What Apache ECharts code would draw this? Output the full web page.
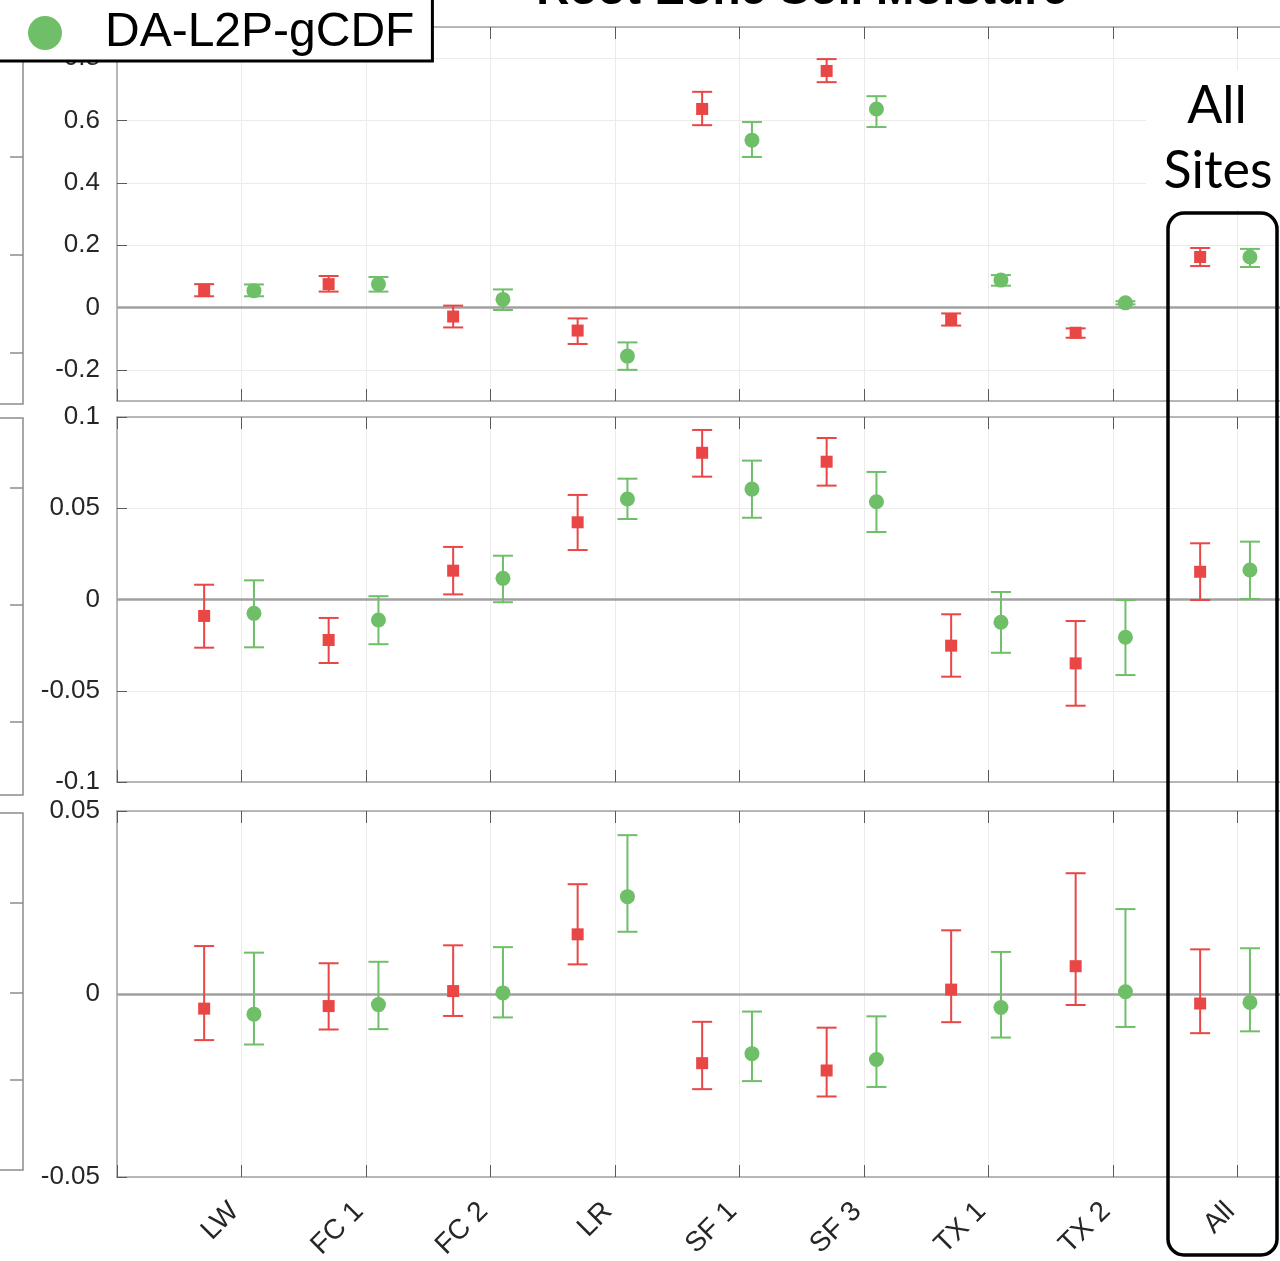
<!DOCTYPE html>
<html>
<head>
<meta charset="utf-8">
<script src="https://cdn.jsdelivr.net/npm/echarts@6/dist/echarts.min.js"></script>
<style>
  html, body { margin: 0; padding: 0; background: #fff; }
  #chart { width: 1280px; height: 1261px; }
</style>
</head>
<body>
<div id="chart"></div>
<script>
// Sites along the x axis
const sites = ['LW', 'FC 1', 'FC 2', 'LR', 'SF 1', 'SF 3', 'TX 1', 'TX 2', 'All'];

// Top panel: mean and confidence bounds
const topRedMean  = [0.056, 0.075, -0.029, -0.074, 0.637, 0.759, -0.038, -0.081, 0.162];
const topRedLow   = [0.036, 0.051, -0.064, -0.117, 0.585, 0.723, -0.058, -0.097, 0.133];
const topRedHigh  = [0.075, 0.101,  0.006, -0.035, 0.692, 0.797, -0.019, -0.067, 0.191];
const topGreenMean = [0.054, 0.075,  0.026, -0.156, 0.537, 0.637, 0.088, 0.015, 0.162];
const topGreenLow  = [0.036, 0.051, -0.008, -0.200, 0.483, 0.579, 0.070, 0.010, 0.130];
const topGreenHigh = [0.074, 0.098,  0.058, -0.112, 0.595, 0.678, 0.104, 0.020, 0.188];

// Middle panel
const midRedMean  = [-0.0090, -0.0222, 0.0158, 0.0423, 0.0804, 0.0755, -0.0253, -0.0350, 0.0152];
const midRedLow   = [-0.0264, -0.0348, 0.0028, 0.0271, 0.0673, 0.0624, -0.0423, -0.0582, -0.0003];
const midRedHigh  = [ 0.0081, -0.0101, 0.0288, 0.0573, 0.0929, 0.0885, -0.0081, -0.0118, 0.0308];
const midGreenMean = [-0.0076, -0.0112, 0.0116, 0.0551, 0.0605, 0.0536, -0.0125, -0.0207, 0.0162];
const midGreenLow  = [-0.0262, -0.0245, -0.0015, 0.0441, 0.0448, 0.0370, -0.0292, -0.0414, 0.0003];
const midGreenHigh = [ 0.0105,  0.0018, 0.0240, 0.0662, 0.0761, 0.0699, 0.0041, -0.0003, 0.0317];

// Bottom panel
const botRedMean  = [-0.0040, -0.0033, 0.0008, 0.0163, -0.0189, -0.0209, 0.0012, 0.0076, -0.0026];
const botRedLow   = [-0.0126, -0.0097, -0.0060, 0.0081, -0.0260, -0.0280, -0.0077, -0.0030, -0.0107];
const botRedHigh  = [ 0.0131,  0.0084, 0.0133, 0.0300, -0.0076, -0.0092, 0.0174, 0.0330, 0.0122];
const botGreenMean = [-0.0055, -0.0029, 0.0003, 0.0266, -0.0163, -0.0179, -0.0037, 0.0006, -0.0023];
const botGreenLow  = [-0.0138, -0.0096, -0.0064, 0.0170, -0.0238, -0.0254, -0.0119, -0.0090, -0.0102];
const botGreenHigh = [ 0.0113,  0.0088, 0.0128, 0.0434, -0.0048, -0.0061, 0.0115, 0.0232, 0.0125];

// Y-axis ranges of the three panels
const topRange = [-0.3, 0.9];
const midRange = [-0.1, 0.1];
const midStep = 0.05;
const botRange = [-0.05, 0.05];
const botStep = 0.05;

const RED = '#E94646';
const GREEN = '#6FBE68';
const GREEN_NAME = 'DA-L2P-gCDF';
const RED_NAME = 'DA-L2P';
const RED_SHIFT = -0.3;
const GREEN_SHIFT = 0.1;
const FONT = '"Liberation Sans", Arial, sans-serif';

const chart = echarts.init(document.getElementById('chart'), null, { renderer: 'canvas' });

const panels = [
  { top: 27,  height: 374, range: topRange, step: null,
    red: [topRedMean, topRedLow, topRedHigh], green: [topGreenMean, topGreenLow, topGreenHigh] },
  { top: 417, height: 365, range: midRange, step: midStep,
    red: [midRedMean, midRedLow, midRedHigh], green: [midGreenMean, midGreenLow, midGreenHigh] },
  { top: 811, height: 366, range: botRange, step: botStep,
    red: [botRedMean, botRedLow, botRedHigh], green: [botGreenMean, botGreenLow, botGreenHigh] }
];

const frameLine = { color: '#a3a3a3', width: 1.5 };
const tickLine = { color: '#5a5a5a', width: 1 };
const gridLine = { color: '#ebebeb', width: 1 };

function renderErrorBar(params, api) {
  const x = api.value(0);
  const lo = api.coord([x, api.value(1)]);
  const hi = api.coord([x, api.value(2)]);
  const half = 10;
  const style = { stroke: api.visual('color'), lineWidth: 2, fill: null };
  return {
    type: 'group',
    children: [
      { type: 'line', shape: { x1: hi[0], y1: hi[1], x2: lo[0], y2: lo[1] }, style },
      { type: 'line', shape: { x1: hi[0] - half, y1: hi[1], x2: hi[0] + half, y2: hi[1] }, style },
      { type: 'line', shape: { x1: lo[0] - half, y1: lo[1], x2: lo[0] + half, y2: lo[1] }, style }
    ]
  };
}

const grid = [], xAxis = [], yAxis = [], series = [];

panels.forEach((p, k) => {
  grid.push({ left: 117, width: 1245, top: p.top, height: p.height, outerBoundsMode: 'none' });
  const isLast = k === panels.length - 1;
  // bottom x axis
  xAxis.push({
    type: 'value', gridIndex: k, position: 'bottom', min: 0, max: 10, interval: 1,
    axisLine: { show: true, onZero: false, lineStyle: frameLine },
    axisTick: { show: true, inside: true, length: 12, lineStyle: tickLine },
    axisLabel: {
      show: isLast, rotate: 45, fontSize: 28, color: '#262626', fontFamily: FONT, margin: 23,
      padding: [0, 10, 0, 0],
      formatter: v => sites[v - 1] || ''
    },
    splitLine: { show: true, lineStyle: gridLine }
  });
  // top x axis (ticks only)
  xAxis.push({
    type: 'value', gridIndex: k, position: 'top', min: 0, max: 10, interval: 1,
    axisLine: { show: true, onZero: false, lineStyle: frameLine },
    axisTick: { show: true, inside: true, length: 12, lineStyle: tickLine },
    axisLabel: { show: false },
    splitLine: { show: false }
  });
  const y = {
    type: 'value', gridIndex: k, min: p.range[0], max: p.range[1],
    axisLine: { show: true, onZero: false, lineStyle: frameLine },
    axisTick: { show: true, inside: true, length: 10, lineStyle: tickLine },
    axisLabel: { fontSize: 26, color: '#262626', fontFamily: FONT, margin: 17,
                 showMinLabel: p.step !== null, showMaxLabel: p.step !== null },
    splitLine: { show: true, lineStyle: gridLine }
  };
  if (p.step !== null) y.interval = p.step; else y.splitNumber = 6;
  yAxis.push(y);

  const xi = 2 * k;
  const redErr = sites.map((s, i) => [i + 1 + RED_SHIFT, p.red[1][i], p.red[2][i]]);
  const greenErr = sites.map((s, i) => [i + 1 + GREEN_SHIFT, p.green[1][i], p.green[2][i]]);
  const redPts = sites.map((s, i) => [i + 1 + RED_SHIFT, p.red[0][i]]);
  const greenPts = sites.map((s, i) => [i + 1 + GREEN_SHIFT, p.green[0][i]]);

  series.push({
    type: 'custom', name: RED_NAME, xAxisIndex: xi, yAxisIndex: k, renderItem: renderErrorBar,
    itemStyle: { color: RED }, encode: { x: 0, y: [1, 2] }, data: redErr, z: 3, silent: true
  });
  series.push({
    type: 'custom', name: GREEN_NAME, xAxisIndex: xi, yAxisIndex: k, renderItem: renderErrorBar,
    itemStyle: { color: GREEN }, encode: { x: 0, y: [1, 2] }, data: greenErr, z: 3, silent: true
  });
  series.push({
    type: 'scatter', name: RED_NAME, xAxisIndex: xi, yAxisIndex: k, symbol: 'rect', symbolSize: 12,
    itemStyle: { color: RED, opacity: 1 }, data: redPts, z: 4,
    markLine: {
      silent: true, symbol: 'none', label: { show: false },
      lineStyle: { color: '#a0a0a0', width: 2.5, type: 'solid' },
      data: [{ yAxis: 0 }], z: 2
    }
  });
  series.push({
    type: 'scatter', name: GREEN_NAME, xAxisIndex: xi, yAxisIndex: k, symbol: 'circle', symbolSize: 15,
    itemStyle: { color: GREEN, opacity: 1 }, data: greenPts, z: 4
  });
});

// Edges of the neighbouring panel frames along the left border
function frameEdge(y0, y1, ticks) {
  const els = [{
    type: 'polyline', silent: true,
    shape: { points: [[0, y0], [23, y0], [23, y1], [0, y1]] },
    style: { stroke: '#8c8c8c', lineWidth: 1.5, fill: null }
  }];
  ticks.forEach(t => els.push({
    type: 'line', silent: true, shape: { x1: 10, y1: t, x2: 23, y2: t },
    style: { stroke: '#8c8c8c', lineWidth: 1.5 }
  }));
  return els;
}

const graphic = [
  ...frameEdge(-20, 404, [157, 255, 353]),
  ...frameEdge(418, 795, [488, 605, 722]),
  ...frameEdge(813, 1170, [903, 993, 1080]),
  {
    type: 'text', x: 802, y: -9, silent: true, z: 10,
    style: { text: 'Root-Zone Soil Moisture', font: 'bold 46px ' + FONT, fill: '#000',
             textAlign: 'center', textVerticalAlign: 'middle' }
  },
  {
    type: 'rect', silent: true, z: 5,
    shape: { x: 1146, y: 70, width: 134, height: 140 },
    style: { fill: '#fff' }
  },
  {
    type: 'text', x: 1217, y: 106, silent: true, z: 6,
    style: { text: 'All', font: '52px Lato, "Open Sans", sans-serif', fill: '#000',
             textAlign: 'center', textVerticalAlign: 'middle' }
  },
  {
    type: 'text', x: 1218, y: 171, silent: true, z: 6,
    style: { text: 'Sites', font: '52px Lato, "Open Sans", sans-serif', fill: '#000',
             textAlign: 'center', textVerticalAlign: 'middle' }
  },
  {
    type: 'rect', silent: true, z: 6,
    shape: { x: 1168, y: 213, width: 109, height: 1042, r: 16 },
    style: { fill: null, stroke: '#000', lineWidth: 3.5 }
  }
];

chart.setOption({
  animation: false,
  backgroundColor: '#fff',
  legend: {
    data: [GREEN_NAME], left: -12, top: -3, icon: 'circle',
    itemWidth: 110, itemHeight: 34, padding: [12, 18, 4, 40],
    backgroundColor: '#fff', borderColor: '#000', borderWidth: 3, borderRadius: 0,
    textStyle: { fontSize: 48, color: '#000', fontFamily: FONT },
    selectedMode: false, z: 8
  },
  grid, xAxis, yAxis, series, graphic
});
</script>
</body>
</html>
